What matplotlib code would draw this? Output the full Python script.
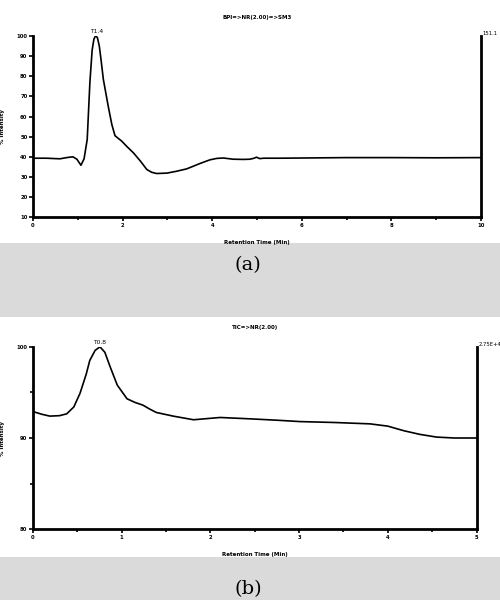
import matplotlib.pyplot as plt
from matplotlib.patches import Rectangle

# chromatogram (a): BPI => NR(2.00) => SM3
time_a = [0.0, 0.3, 0.6, 0.75, 0.89, 0.98, 1.07, 1.14, 1.21, 1.27, 1.32, 1.36, 1.39, 1.41,
          1.44, 1.48, 1.52, 1.57, 1.68, 1.76, 1.83, 1.9, 1.98, 2.1, 2.24, 2.4, 2.54, 2.65,
          2.76, 2.99, 3.2, 3.43, 3.73, 3.95, 4.1, 4.25, 4.47, 4.7, 4.84, 4.92, 4.99,
          5.06, 5.15, 5.5, 6.0, 7.0, 8.0, 9.0, 10.0]
inten_a = [39.3, 39.3, 39.0, 39.6, 40.0, 38.8, 35.8, 39.0, 48.6, 77.0, 93.0, 98.5, 99.8, 100.0,
           99.0, 95.0, 88.0, 78.5, 65.0, 56.0, 50.5, 49.2, 47.8, 45.0, 42.0, 37.8, 33.7, 32.3,
           31.7, 31.9, 32.8, 34.0, 36.7, 38.5, 39.2, 39.4, 38.8, 38.7, 38.8, 39.2, 39.8,
           39.1, 39.3, 39.3, 39.4, 39.6, 39.6, 39.5, 39.6]

# chromatogram (b): TIC => NR(2.00)
time_b = [0.0, 0.1, 0.19, 0.3, 0.38, 0.46, 0.53, 0.6, 0.64, 0.7, 0.755, 0.81, 0.87,
          0.95, 1.06, 1.15, 1.24, 1.31, 1.39, 1.58, 1.81, 2.11, 2.45, 2.75, 3.01,
          3.4, 3.8, 4.0, 4.18, 4.36, 4.55, 4.75, 5.0]
inten_b = [92.9, 92.6, 92.4, 92.45, 92.65, 93.4, 94.9, 97.0, 98.5, 99.6, 100.0, 99.4, 97.8,
           95.8, 94.3, 93.9, 93.6, 93.2, 92.8, 92.4, 92.0, 92.25, 92.1, 91.95, 91.8,
           91.7, 91.55, 91.3, 90.8, 90.4, 90.1, 90.0, 90.0]

panels = [
    dict(t=time_a, y=inten_a, title='BPI=>NR(2.00)=>SM3', peak='T1.4', peak_t=1.41,
         right='151.1', xmax=10, ymin=10, ymax=100, xmaj=2, xmin_=1, ymaj=10, ymin_=10,
         pos=[0.066, 0.638, 0.896, 0.302], cap='(a)', cap_y=0.543),
    dict(t=time_b, y=inten_b, title='TIC=>NR(2.00)', peak='T0.8', peak_t=0.755,
         right='2.75E+4', xmax=5, ymin=80, ymax=100, xmaj=1, xmin_=0.5, ymaj=10, ymin_=5,
         pos=[0.066, 0.118, 0.887, 0.304], cap='(b)', cap_y=0.004),
]

plt.rcParams['font.family'] = ['DejaVu Sans']

fig = plt.figure(figsize=(5, 6), dpi=100)
fig.patch.set_facecolor('white')
# grey watermark bands around the captions
fig.add_artist(Rectangle((0, 0.472), 1, 0.123, transform=fig.transFigure,
                         facecolor='#dadada', edgecolor='none', zorder=0))
fig.add_artist(Rectangle((0, 0), 1, 0.072, transform=fig.transFigure,
                         facecolor='#dadada', edgecolor='none', zorder=0))

for p in panels:
    ax = fig.add_axes(p['pos'])
    ax.plot(p['t'], p['y'], color='black', lw=1.2)
    ax.set_xlim(0, p['xmax'])
    ax.set_ylim(p['ymin'], p['ymax'])
    ax.set_xticks([i * p['xmaj'] for i in range(int(p['xmax'] / p['xmaj']) + 1)])
    nmin = int(p['xmax'] / p['xmin_'])
    ax.set_xticks([i * p['xmin_'] for i in range(nmin + 1)], minor=True)
    ax.set_yticks(list(range(p['ymin'], p['ymax'] + 1, p['ymaj'])))
    ax.set_yticks(list(range(p['ymin'], p['ymax'] + 1, p['ymin_'])), minor=True)
    for s in ['left', 'bottom', 'right']:
        ax.spines[s].set_linewidth(2)
    ax.spines['top'].set_visible(False)
    ax.tick_params(which='both', direction='out', width=1.2, labelsize=3.8, pad=1)
    ax.tick_params(which='major', length=3)
    ax.tick_params(which='minor', length=2)
    for lab in ax.get_xticklabels() + ax.get_yticklabels():
        lab.set_fontweight('bold')
    ax.set_xlabel('Retention Time (Min)', fontsize=4, fontweight='bold', labelpad=9)
    ax.set_ylabel('% Intensity', fontsize=4, fontweight='bold', labelpad=8)
    ax.annotate(p['peak'], (p['peak_t'], p['ymax']), xytext=(0, 1.5), textcoords='offset points',
                ha='center', va='bottom', fontsize=4.3)
    ax.text(1.004, 1.0, p['right'], transform=ax.transAxes, ha='left', va='bottom',
            fontsize=3.8)
    ax.text(0.5, 1.09, p['title'], transform=ax.transAxes, ha='center', va='bottom',
            fontsize=4, fontweight='bold')
    fig.text(0.496, p['cap_y'], p['cap'], ha='center', va='bottom', fontsize=14,
             family='DejaVu Serif')

fig.savefig('out.png', dpi=100)
